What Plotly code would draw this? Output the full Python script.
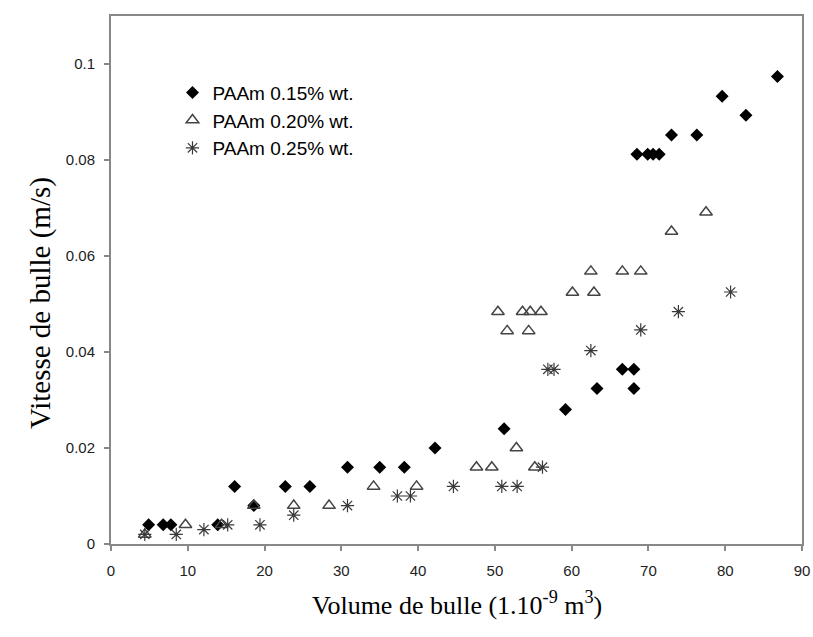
import plotly.graph_objects as go

# --- Data ---
paam015_x = [4.9, 6.8, 7.8, 13.9, 16.1, 18.6, 22.7, 25.9, 30.8, 35.0, 38.2, 42.2, 51.2,
             59.2, 63.3, 66.6, 68.1, 68.1, 68.5, 69.9, 70.6, 71.4, 73.0, 76.3, 79.6, 82.7, 86.8]
paam015_y = [0.004, 0.004, 0.004, 0.004, 0.012, 0.008, 0.012, 0.012, 0.016, 0.016, 0.016, 0.020, 0.024,
             0.028, 0.0324, 0.0364, 0.0364, 0.0324, 0.0812, 0.0812, 0.0812, 0.0812, 0.0852, 0.0852, 0.0933, 0.0893, 0.0974]

paam020_x = [4.4, 9.7, 14.4, 18.6, 23.8, 28.4, 34.2, 39.8, 47.6, 49.6, 52.8, 55.2,
             50.4, 51.6, 53.6, 54.4, 54.6, 56.0, 60.1, 62.9, 62.5, 66.6, 69.0, 73.0, 77.5]
paam020_y = [0.002, 0.004, 0.004, 0.008, 0.008, 0.008, 0.012, 0.012, 0.016, 0.016, 0.020, 0.016,
             0.0484, 0.0444, 0.0484, 0.0444, 0.0484, 0.0484, 0.0524, 0.0524, 0.0568, 0.0568, 0.0568, 0.0651, 0.0691]

paam025_x = [4.4, 8.5, 12.1, 15.2, 19.4, 23.8, 30.8, 37.3, 39.0, 44.6, 50.9, 52.9, 56.2,
             56.9, 57.7, 62.5, 69.0, 73.9, 80.7]
paam025_y = [0.002, 0.002, 0.003, 0.004, 0.004, 0.006, 0.008, 0.010, 0.010, 0.012, 0.012, 0.012, 0.016,
             0.0364, 0.0364, 0.0403, 0.0446, 0.0484, 0.0525]

series_names = ["PAAm 0.15% wt.", "PAAm 0.20% wt.", "PAAm 0.25% wt."]

x_tickvals = [0, 10, 20, 30, 40, 50, 60, 70, 80, 90]
x_ticktext = ["0", "10", "20", "30", "40", "50", "60", "70", "80", "90"]
y_tickvals = [0, 0.02, 0.04, 0.06, 0.08, 0.1]
y_ticktext = ["0", "0.02", "0.04", "0.06", "0.08", "0.1"]

x_title = "Volume de bulle (1.10<sup>-9</sup> m<sup>3</sup>)"
y_title = "Vitesse de bulle (m/s)"

fig = go.Figure()
fig.add_trace(go.Scatter(
    x=paam015_x, y=paam015_y, mode="markers", name=series_names[0], legendgroup="a",
    marker=dict(symbol="diamond", size=10, color="black", line=dict(width=0))))
fig.add_trace(go.Scatter(
    x=paam020_x, y=paam020_y, mode="markers", name=series_names[1], legendgroup="b",
    marker=dict(symbol="triangle-up-open", size=11, color="#444444", line=dict(width=1.5, color="#444444"))))
fig.add_trace(go.Scatter(
    x=paam025_x, y=paam025_y, mode="markers", name=series_names[2], legendgroup="c",
    marker=dict(symbol="asterisk-open", size=11, color="#3a3a3a", line=dict(width=1.2, color="#3a3a3a"))))

axis_common = dict(
    showgrid=False, zeroline=False, showline=True, linecolor="#888888", linewidth=2,
    mirror=True, ticks="outside", ticklen=5, tickwidth=1.5, tickcolor="#888888",
    automargin=False,
    tickfont=dict(family="Liberation Sans, Arial, sans-serif", size=15, color="#222222"),
)

fig.update_xaxes(range=[0, 90], tickvals=x_tickvals, ticktext=x_ticktext,
                 ticklabelstandoff=7, **axis_common)
fig.update_yaxes(range=[0, 0.11], tickvals=y_tickvals, ticktext=y_ticktext,
                 ticklabelstandoff=6, **axis_common)

fig.add_annotation(text=x_title, xref="paper", yref="paper", x=0.5, y=-0.112,
                   xanchor="center", yanchor="middle", showarrow=False,
                   font=dict(family="Liberation Serif, Times New Roman, serif", size=26, color="black"))
fig.add_annotation(text=y_title, xref="paper", yref="paper", x=-0.103, y=0.456,
                   xanchor="center", yanchor="middle", showarrow=False, textangle=-90,
                   font=dict(family="Liberation Serif, Times New Roman, serif", size=29, color="black"))

fig.update_layout(
    width=813, height=637,
    margin=dict(l=111, r=11, t=16, b=93),
    plot_bgcolor="white", paper_bgcolor="white",
    showlegend=True,
    legend=dict(x=0.089, y=0.891, xanchor="left", yanchor="top",
                bgcolor="rgba(0,0,0,0)", tracegroupgap=0,
                font=dict(family="Liberation Sans, Arial, sans-serif", size=19, color="black")),
)

fig.write_html(
    "out.html",
    config={"displayModeBar": False},
    post_script="document.body.style.margin='0';document.body.style.overflow='hidden';",
)
